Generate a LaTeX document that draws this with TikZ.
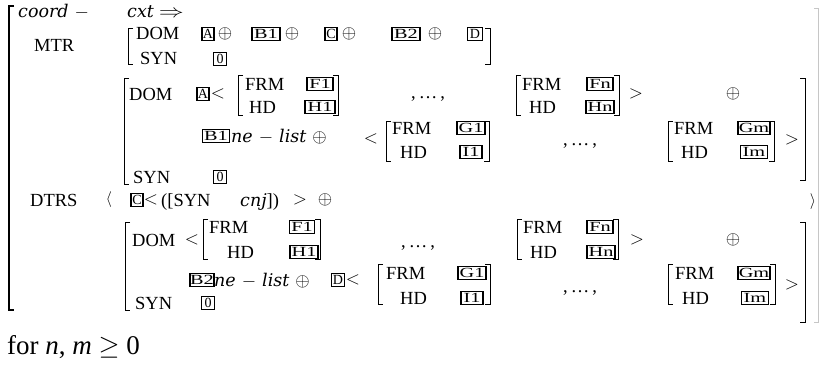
\documentclass[tikz,border=0pt]{standalone}
\usepackage{fix-cm}
\usepackage{fontspec}
\setmainfont{Liberation Serif}
\newfontfamily\mifont{DejaVu Serif}
\newcommand\mvar[1]{{\mifont\itshape\fontsize{17.5}{20}\selectfont #1}}
\newcommand\mylb[3]{\draw[brk] (#1+5,#2) -- (#1,#2) -- (#1,#3) -- (#1+5,#3);}
\newcommand\myrb[3]{\draw[brk] (#1-5,#2) -- (#1,#2) -- (#1,#3) -- (#1-5,#3);}
\newcommand\ellip{,\,…\,,}
\newcommand\tw[1]{\scalebox{1.45}[1]{#1}}
\tikzset{
  x=1pt,y=-1pt,
  lbl/.style={inner sep=0pt, anchor=base west, font=\fontsize{18.5}{20}\selectfont},
  sym/.style={inner sep=0pt, anchor=center, font=\fontsize{18.5}{20}\selectfont},
  tag/.style={draw, line width=1.4pt, inner sep=0pt, minimum height=13pt, text height=9.5pt, text depth=0pt, anchor=center, font=\fontsize{14}{14}\selectfont},
  brk/.style={line width=0.9pt},
}
\begin{document}
\begin{tikzpicture}
\useasboundingbox (0,0) rectangle (821,369);
% outer brackets
\draw[line width=1.3pt] (14,6) -- (9,6) -- (9,310) -- (14,310);
\draw[line width=0.8pt, gray!45] (814,8) -- (818,8) -- (818,322) -- (814,322);
% row 1
\node[lbl] (coord) at (18,18) {\mvar{coord}\hspace{6pt}$-$};
\node[lbl] (cxt) at (127,18) {\mvar{cxt}\hspace{5pt}\scalebox{1.35}[1]{$\Rightarrow$}};
% MTR
\node[lbl] (mtr) at (34,52) {MTR};
\mylb{128}{28}{64}
\node[lbl] (dom1) at (136,40) {DOM};
\node[lbl] (syn1) at (140,64) {SYN};
\node[tag, minimum width=12pt] (tA1) at (208,34) {A};
\node[sym] (p1) at (225,34) {$\oplus$};
\node[tag, minimum width=28pt] (tB11) at (266,34) {\tw{B1}};
\node[sym] (p2) at (292,34) {$\oplus$};
\node[tag, minimum width=12pt] (tC1) at (331,34) {C};
\node[sym] (p3) at (349,34) {$\oplus$};
\node[tag, minimum width=28pt] (tB21) at (406,34) {\tw{B2}};
\node[sym] (p4) at (435,34) {$\oplus$};
\node[tag, minimum width=15pt] (tD1) at (475,34) {D};
\node[tag, minimum width=13pt] (t01) at (220,59) {0};
\myrb{490}{28}{64}
% block 2
\mylb{124}{78}{184}
\myrb{805}{78}{180}
\node[lbl] (dom2) at (129,100) {DOM};
\node[tag, minimum width=12pt] (tA2) at (203,94) {A};
\node[sym] (lt1) at (218,94) {$<$};
\mylb{238}{75}{115}
\node[lbl] (frm1) at (245,90) {FRM};
\node[lbl] (hd1) at (249,113) {HD};
\node[tag, minimum width=26pt] (tF1a) at (320,84) {\tw{F1}};
\node[tag, minimum width=30pt] (tH1a) at (320,107) {\tw{H1}};
\myrb{338}{75}{115}
\node[lbl] (el1) at (411,98) {\ellip};
\mylb{516}{75}{115}
\node[lbl] (frm2) at (522,90) {FRM};
\node[lbl] (hd2) at (529,113) {HD};
\node[tag, minimum width=26pt] (tFna) at (600,84) {\tw{Fn}};
\node[tag, minimum width=28pt] (tHna) at (600,107) {\tw{Hn}};
\myrb{619}{75}{115}
\node[sym] (gt1) at (636,94) {$>$};
\node[sym] (p5) at (733,94) {$\oplus$};
\node[tag, minimum width=27pt] (tB12) at (216,136) {\tw{B1}};
\node[lbl] (nel1) at (231,142) {\mvar{ne}\hspace{6pt}$-$\hspace{6pt}\mvar{list}\hspace{6pt}$\oplus$};
\node[sym] (lt2) at (371,139) {$<$};
\mylb{386}{121}{161}
\node[lbl] (frm3) at (392,134) {FRM};
\node[lbl] (hd3) at (400,158) {HD};
\node[tag, minimum width=28pt] (tG1a) at (471,128) {\tw{G1}};
\node[tag, minimum width=22pt] (tI1a) at (471,152) {\tw{I1}};
\myrb{489}{121}{161}
\node[lbl] (el2) at (563,145) {\ellip};
\mylb{668}{121}{161}
\node[lbl] (frm4) at (674,134) {FRM};
\node[lbl] (hd4) at (681,158) {HD};
\node[tag, minimum width=32pt] (tGma) at (754,128) {\tw{Gm}};
\node[tag, minimum width=27pt] (tIma) at (754,152) {\tw{Im}};
\myrb{774}{121}{161}
\node[sym] (gt2) at (792,140) {$>$};
\node[lbl] (syn2) at (133,183) {SYN};
\node[tag, minimum width=13pt] (t02) at (220,177) {0};
% DTRS row
\node[lbl] (dtrs) at (30,206) {DTRS};
\node[sym] (lang) at (109,200) {\scalebox{0.85}{$\langle$}};
\node[tag, minimum width=12pt] (tC2) at (137,200) {C};
\node[sym] (lt3) at (151,200) {$<$};
\node[lbl] (synb) at (161,206) {([SYN};
\node[lbl] (cnj) at (240,206) {\mvar{cnj}])};
\node[sym] (gt3) at (300,200) {$>$};
\node[sym] (p6) at (325,200) {$\oplus$};
\node[sym] (rang) at (813,202) {\scalebox{0.85}{$\rangle$}};
% block 3
\mylb{125}{222}{310}
\myrb{805}{222}{322}
\node[lbl] (dom3) at (132,246) {DOM};
\node[sym] (lt4) at (192,240) {$<$};
\mylb{203}{219}{259}
\node[lbl] (frm5) at (209,233) {FRM};
\node[lbl] (hd5) at (227,258) {HD};
\node[tag, minimum width=25pt] (tF1b) at (302,227) {\tw{F1}};
\node[tag, minimum width=28pt] (tH1b) at (304,252) {\tw{H1}};
\myrb{320}{219}{259}
\node[lbl] (el3) at (401,247) {\ellip};
\mylb{517}{219}{259}
\node[lbl] (frm6) at (523,233) {FRM};
\node[lbl] (hd6) at (530,258) {HD};
\node[tag, minimum width=26pt] (tFnb) at (600,227) {\tw{Fn}};
\node[tag, minimum width=28pt] (tHnb) at (601,252) {\tw{Hn}};
\myrb{618}{219}{259}
\node[sym] (gt4) at (637,240) {$>$};
\node[sym] (p7) at (733,240) {$\oplus$};
\node[tag, minimum width=24pt] (tB22) at (202,280) {\tw{B2}};
\node[lbl] (nel2) at (214,286) {\mvar{ne}\hspace{6pt}$-$\hspace{6pt}\mvar{list}\hspace{6pt}$\oplus$};
\node[tag, minimum width=13pt] (tD2) at (338,280) {D};
\node[sym] (lt5) at (353,280) {$<$};
\mylb{378}{264}{304}
\node[lbl] (frm7) at (386,279) {FRM};
\node[lbl] (hd7) at (400,304) {HD};
\node[tag, minimum width=28pt] (tG1b) at (472,273) {\tw{G1}};
\node[tag, minimum width=22pt] (tI1b) at (472,298) {\tw{I1}};
\myrb{490}{264}{304}
\node[lbl] (el4) at (563,292) {\ellip};
\mylb{668}{264}{304}
\node[lbl] (frm8) at (675,279) {FRM};
\node[lbl] (hd8) at (682,304) {HD};
\node[tag, minimum width=32pt] (tGmb) at (754,273) {\tw{Gm}};
\node[tag, minimum width=27pt] (tImb) at (755,298) {\tw{Im}};
\myrb{775}{264}{304}
\node[sym] (gt5) at (792,285) {$>$};
\node[lbl] (syn3) at (135,309) {SYN};
\node[tag, minimum width=13pt] (t03) at (208,303) {0};
% footer
\node[lbl, font=\fontsize{27}{30}\selectfont] (for) at (7,354) {for \textit{n}, \textit{m} $\geq$ 0};
\end{tikzpicture}
\end{document}
